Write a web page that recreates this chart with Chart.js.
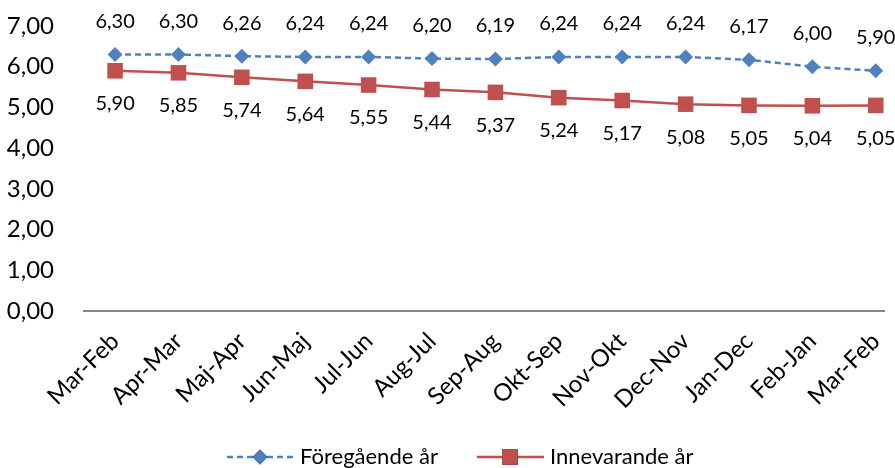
<!DOCTYPE html>
<html>
<head>
<meta charset="utf-8">
<script src="https://cdn.jsdelivr.net/npm/chart.js@4"></script>
<style>
  html, body { margin: 0; padding: 0; background: #fff; overflow: hidden; }
  #wrap { width: 895px; height: 468px; position: relative; }
</style>
</head>
<body>
<div id="wrap"><canvas id="chart"></canvas></div>
<script>
const categories = ['Mar-Feb', 'Apr-Mar', 'Maj-Apr', 'Jun-Maj', 'Jul-Jun', 'Aug-Jul', 'Sep-Aug',
    'Okt-Sep', 'Nov-Okt', 'Dec-Nov', 'Jan-Dec', 'Feb-Jan', 'Mar-Feb'];
const foregaende = [6.30, 6.30, 6.26, 6.24, 6.24, 6.20, 6.19, 6.24, 6.24, 6.24, 6.17, 6.00, 5.90];
const innevarande = [5.90, 5.85, 5.74, 5.64, 5.55, 5.44, 5.37, 5.24, 5.17, 5.08, 5.05, 5.04, 5.05];
const yTicks = [0, 1, 2, 3, 4, 5, 6, 7];

const font = 'Lato';
const blue = '#4F81BD';
const red = '#C0504D';
const fmt = (v) => v.toFixed(2).replace('.', ',');

// value labels: above for the blue series, below for the red one
const valueLabels = {
    id: 'valueLabels',
    afterDatasetsDraw(chart) {
        const ctx = chart.ctx;
        ctx.save();
        ctx.font = `20px ${font}`;
        ctx.fillStyle = '#000';
        ctx.textAlign = 'center';
        ctx.textBaseline = 'middle';
        chart.data.datasets.forEach((ds, di) => {
            const meta = chart.getDatasetMeta(di);
            meta.data.forEach((pt, i) => {
                const dy = di === 0 ? -33 : 33;
                ctx.fillText(fmt(ds.data[i].y), pt.x, pt.y + dy);
            });
        });
        ctx.restore();
    },
};

// legend with line + marker, drawn under the axis labels
const lineLegend = {
    id: 'lineLegend',
    afterDraw(chart) {
        const ctx = chart.ctx;
        const y = 457;
        const items = [
            { x: 227, ds: chart.data.datasets[0] },
            { x: 477, ds: chart.data.datasets[1] },
        ];
        ctx.save();
        ctx.font = `22px ${font}`;
        ctx.textBaseline = 'middle';
        items.forEach((it) => {
            const ds = it.ds;
            ctx.strokeStyle = ds.borderColor;
            ctx.lineWidth = ds.borderWidth;
            ctx.setLineDash(ds.borderDash || []);
            ctx.beginPath();
            ctx.moveTo(it.x, y);
            ctx.lineTo(it.x + 67, y);
            ctx.stroke();
            ctx.setLineDash([]);
            Chart.helpers.drawPoint(ctx, {
                pointStyle: ds.pointStyle,
                radius: ds.pointRadius,
                borderWidth: 0,
            }, it.x + 33, y);
            ctx.fillStyle = ds.pointBackgroundColor;
            ctx.fill();
            ctx.fillStyle = '#000';
            ctx.fillText(ds.label, it.x + 73, y);
        });
        ctx.restore();
    },
};

new Chart(document.getElementById('chart'), {
    type: 'line',
    data: {
        datasets: [
            {
                label: 'Föregående år',
                data: foregaende.map((v, i) => ({ x: i, y: v })),
                borderColor: blue,
                borderWidth: 2.5,
                borderDash: [6, 4],
                pointStyle: 'rectRot',
                pointRadius: 7.5,
                pointBackgroundColor: blue,
                pointBorderColor: blue,
                pointBorderWidth: 0,
            },
            {
                label: 'Innevarande år',
                data: innevarande.map((v, i) => ({ x: i, y: v })),
                borderColor: red,
                borderWidth: 2.5,
                pointStyle: 'rect',
                pointRadius: 11,
                pointBackgroundColor: red,
                pointBorderColor: red,
                pointBorderWidth: 0,
            },
        ],
    },
    options: {
        responsive: true,
        maintainAspectRatio: false,
        animation: false,
        layout: { padding: { top: 26, right: 0, left: 0, bottom: 0 } },
        plugins: {
            legend: { display: false },
            tooltip: { enabled: false },
        },
        scales: {
            x: {
                type: 'linear',
                min: -0.49,
                max: 12.13,
                grid: { display: false },
                border: { display: true, color: '#868686', width: 2 },
                afterFit: (s) => {
                    s.height = 157;
                    s.paddingLeft = 0;
                    s.paddingRight = 0;
                },
                afterBuildTicks: (s) => { s.ticks = categories.map((_, i) => ({ value: i })); },
                ticks: {
                    autoSkip: false,
                    maxRotation: 45,
                    minRotation: 45,
                    padding: 8,
                    color: '#000',
                    font: { family: font, size: 24 },
                    callback: (v) => categories[v],
                },
            },
            y: {
                min: 0,
                max: 7,
                grid: { display: false },
                border: { display: false },
                afterFit: (s) => {
                    s.width = 84;
                    s.paddingTop = 0;
                    s.paddingBottom = 0;
                },
                afterBuildTicks: (s) => { s.ticks = yTicks.map((v) => ({ value: v })); },
                ticks: {
                    padding: 22,
                    color: '#000',
                    font: { family: font, size: 24 },
                    callback: (v) => fmt(v),
                },
            },
        },
    },
    plugins: [valueLabels, lineLegend],
});
</script>
</body>
</html>
